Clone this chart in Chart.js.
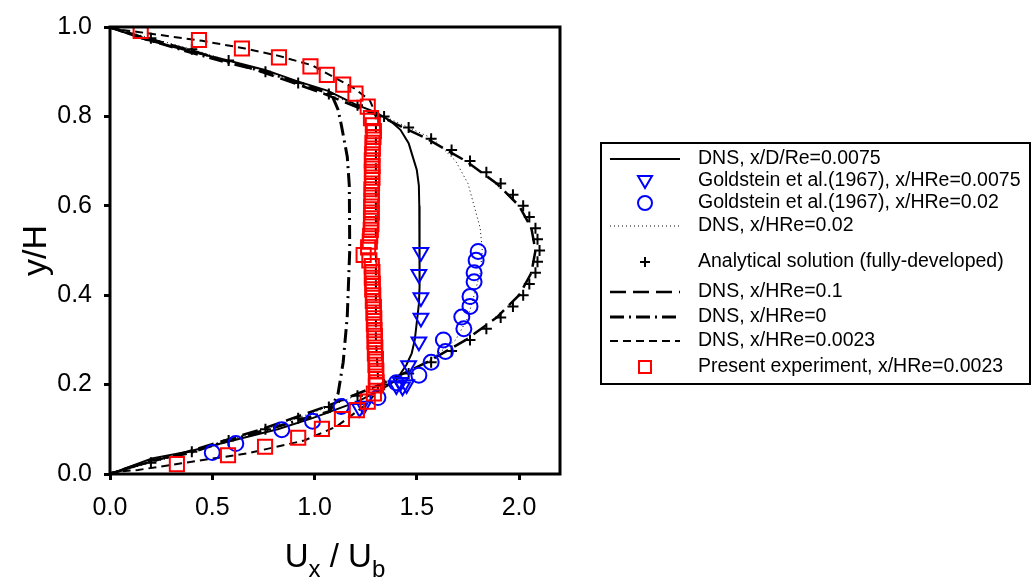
<!DOCTYPE html>
<html><head><meta charset="utf-8">
<script src="https://cdn.jsdelivr.net/npm/chart.js@4.4.1/dist/chart.umd.min.js"></script>
<style>html,body{margin:0;padding:0;background:#fff;}canvas{display:block;}</style>
</head><body>
<canvas id="c" width="1034" height="582"></canvas>
<script>
// ---- tick labels ----
const xTicks = [0, 0.5, 1.0, 1.5, 2.0];
const yTicks = [0, 0.2, 0.4, 0.6, 0.8, 1.0];

// ---- DNS, x/D/Re=0.0075 (solid) ----
const dns0075_y = [1.0,0.996,0.974,0.947,0.925,0.904,0.879,0.857,0.827,0.809,0.79,0.77,0.74,0.71,0.68,0.645,0.6,0.5,0.42,0.38,0.34,0.30,0.27,0.245,0.21,0.19,0.162,0.125,0.1,0.075,0.05,0.035,0.015,0.0];
const dns0075_u = [0,0.02,0.156,0.381,0.577,0.758,0.914,1.066,1.20,1.30,1.37,1.42,1.46,1.48,1.50,1.51,1.512,1.515,1.512,1.51,1.50,1.49,1.475,1.45,1.40,1.33,1.21,0.99,0.82,0.60,0.38,0.205,0.09,0];

// ---- Goldstein et al.(1967), x/HRe=0.0075 (triangles) ----
const goldTri_u = [1.52,1.51,1.52,1.52,1.51,1.46,1.42,1.45,1.40,1.43,1.22,1.24];
const goldTri_y = [0.496,0.447,0.395,0.349,0.296,0.243,0.205,0.200,0.198,0.195,0.147,0.152];

// ---- Goldstein et al.(1967), x/HRe=0.02 (circles) ----
const goldCirc_u = [1.80,1.79,1.78,1.78,1.76,1.76,1.72,1.73,1.63,1.64,1.57,1.51,1.40,1.31,1.13,0.99,0.84,0.615,0.50];
const goldCirc_y = [0.498,0.478,0.45,0.43,0.397,0.375,0.351,0.325,0.30,0.274,0.25,0.221,0.204,0.171,0.151,0.118,0.099,0.068,0.048];

// ---- DNS, x/HRe=0.02 (dotted) ----
const dns002_y = [0,0.025,0.05,0.1,0.15,0.2,0.25,0.3,0.35,0.4,0.45,0.5,0.55,0.6,0.65,0.7,0.75,0.8,0.85,0.9,0.95,0.975,1.0];
const dns002_u = [0,0.20,0.40,0.76,1.07,1.33,1.55,1.69,1.75,1.78,1.81,1.82,1.81,1.78,1.75,1.69,1.58,1.34,1.07,0.76,0.40,0.20,0];

// ---- Analytical solution (plus markers) ----
const anal_y = [0.025,0.05,0.075,0.1,0.125,0.15,0.175,0.2,0.225,0.25,0.275,0.3,0.325,0.35,0.375,0.4,0.425,0.45,0.475,0.5,0.525,0.55,0.575,0.6,0.625,0.65,0.675,0.7,0.725,0.75,0.775,0.8,0.825,0.85,0.875,0.9,0.925,0.95,0.975];
const anal_u = [0.20,0.40,0.58,0.76,0.92,1.07,1.21,1.34,1.46,1.57,1.67,1.76,1.84,1.91,1.97,2.02,2.05,2.08,2.09,2.10,2.09,2.08,2.05,2.02,1.97,1.91,1.84,1.76,1.67,1.57,1.46,1.34,1.21,1.07,0.92,0.76,0.58,0.40,0.20];

// ---- DNS, x/HRe=0.1 (long dash) ----
const dns01_y = [0,0.02,0.05,0.1,0.15,0.2,0.25,0.3,0.35,0.4,0.45,0.5,0.55,0.6,0.65,0.7,0.75,0.8,0.85,0.9,0.95,0.98,1.0];
const dns01_u = [0,0.14,0.38,0.74,1.05,1.32,1.55,1.74,1.89,2.00,2.06,2.08,2.06,2.00,1.89,1.74,1.55,1.32,1.05,0.74,0.38,0.14,0];

// ---- DNS, x/HRe=0 (dash-dot) ----
const dns0_y = [1.0,0.975,0.945,0.92,0.9,0.875,0.855,0.842,0.815,0.783,0.71,0.645,0.5,0.353,0.25,0.18,0.14,0.12,0.097,0.075,0.046,0.03,0.0];
const dns0_u = [0,0.16,0.38,0.58,0.76,0.92,1.05,1.09,1.115,1.13,1.16,1.17,1.172,1.16,1.14,1.115,1.075,0.92,0.75,0.58,0.38,0.20,0];

// ---- DNS, x/HRe=0.0023 (short dash) ----
const dns0023_y = [1.0,0.996,0.989,0.969,0.952,0.936,0.914,0.89,0.864,0.836,0.815,0.798,0.77,0.7,0.6,0.5,0.4,0.3,0.22,0.189,0.158,0.107,0.075,0.046,0.024,0.009,0.004,0];
const dns0023_u = [0,0.01,0.137,0.45,0.66,0.82,0.99,1.085,1.19,1.27,1.29,1.30,1.30,1.30,1.30,1.30,1.30,1.30,1.31,1.31,1.26,1.11,0.95,0.67,0.35,0.137,0.01,0];

// ---- Present experiment, x/HRe=0.0023 (squares) ----
const exp_y = [0.991,0.971,0.952,0.932,0.912,0.893,0.871,0.851,0.822,0.796,
  0.780,0.767,0.754,0.741,0.728,0.715,0.702,0.689,0.676,0.663,0.650,0.637,0.624,0.611,0.598,0.585,0.572,0.559,0.546,0.533,0.520,0.507,0.490,0.478,
  0.465,0.452,0.439,0.426,0.413,0.400,0.387,0.374,0.361,0.348,0.335,0.322,0.309,0.296,0.283,0.270,0.257,0.244,0.231,0.218,0.205,
  0.198,0.180,0.162,0.143,0.123,0.101,0.081,0.061,0.042,0.022];
const exp_u = [0.15,0.435,0.645,0.826,0.98,1.06,1.14,1.20,1.26,1.276,
  1.285,1.290,1.288,1.283,1.285,1.282,1.280,1.284,1.280,1.283,1.281,1.278,1.280,1.279,1.277,1.280,1.276,1.278,1.275,1.272,1.270,1.262,1.240,1.268,
  1.280,1.283,1.280,1.285,1.282,1.287,1.285,1.290,1.288,1.292,1.290,1.293,1.295,1.293,1.297,1.295,1.300,1.298,1.302,1.300,1.303,
  1.300,1.290,1.260,1.207,1.134,1.036,0.920,0.758,0.577,0.327];

const legendLabels = [
  'DNS, x/D/Re=0.0075',
  'Goldstein et al.(1967), x/HRe=0.0075',
  'Goldstein et al.(1967), x/HRe=0.02',
  'DNS, x/HRe=0.02',
  'Analytical solution (fully-developed)',
  'DNS, x/HRe=0.1',
  'DNS, x/HRe=0',
  'DNS, x/HRe=0.0023',
  'Present experiment, x/HRe=0.0023'
];

const FONT = "'Liberation Sans', Arial, Helvetica, sans-serif";
Chart.defaults.font.family = FONT;
Chart.defaults.color = '#000';

const pts = (us, ys) => us.map((u, i) => ({x: u, y: ys[i]}));
const DASH = { solid: [], dot: [1, 3], long: [16, 7], dashdot: [14, 5, 2, 5], short: [8, 5] };
const lineDS = (label, us, ys, dash, w) => ({
  label, data: pts(us, ys), showLine: true, borderColor: '#000', borderWidth: w,
  borderDash: dash, pointRadius: 0, pointHoverRadius: 0, fill: false, tension: 0, order: 2
});
const markDS = (label, us, ys, style, r, color, rot) => ({
  label, data: pts(us, ys), showLine: false, pointStyle: style, pointRadius: r, pointHoverRadius: r,
  pointBorderColor: color, pointBackgroundColor: 'rgba(0,0,0,0)', pointBorderWidth: 2,
  pointRotation: rot || 0, order: 1
});

const decor = {
  id: 'decor',
  afterDraw(chart) {
    const ctx = chart.ctx, a = chart.chartArea;
    ctx.save();
    // frame
    ctx.strokeStyle = '#000'; ctx.lineWidth = 3; ctx.setLineDash([]);
    ctx.strokeRect(a.left, a.top, a.right - a.left, a.bottom - a.top);

    // x axis title U_x / U_b
    ctx.fillStyle = '#000';
    ctx.textBaseline = 'alphabetic';
    const big = '33px ' + FONT, small = '24px ' + FONT;
    const parts = [['U', big, 0], ['x', small, 10], [' / ', big, 0], ['U', big, 0], ['b', small, 10]];
    let tot = 0;
    parts.forEach(p => { ctx.font = p[1]; p.w = ctx.measureText(p[0]).width; tot += p.w; });
    let x = (a.left + a.right) / 2 - tot / 2;
    const base = 567;
    parts.forEach(p => { ctx.font = p[1]; ctx.textAlign = 'left'; ctx.fillText(p[0], x, base + p[2]); x += p.w; });

    // y axis title
    ctx.save();
    ctx.translate(46, (a.top + a.bottom) / 2);
    ctx.rotate(-Math.PI / 2);
    ctx.font = '34px ' + FONT; ctx.textAlign = 'center'; ctx.textBaseline = 'alphabetic';
    ctx.fillText('y/H', 0, 0);
    ctx.restore();

    // legend
    const L = { x: 601, y: 143, w: 429, h: 241, s1: 610, s2: 680, cx: 645, tx: 698 };
    const rows = [159, 181, 203, 226, 262, 292, 317, 341, 367];
    ctx.lineWidth = 2; ctx.strokeStyle = '#000';
    ctx.strokeRect(L.x, L.y, L.w, L.h);
    ctx.font = '19.5px ' + FONT; ctx.textAlign = 'left'; ctx.textBaseline = 'middle'; ctx.fillStyle = '#000';
    legendLabels.forEach((t, i) => ctx.fillText(t, L.tx, rows[i]));
    const seg = (y, dash, w) => {
      ctx.save(); ctx.strokeStyle = '#000'; ctx.lineWidth = w; ctx.setLineDash(dash);
      ctx.beginPath(); ctx.moveTo(L.s1, y); ctx.lineTo(L.s2, y); ctx.stroke(); ctx.restore();
    };
    seg(rows[0], DASH.solid, 2);
    seg(rows[3], DASH.dot, 1);
    seg(rows[5], DASH.long, 2.5);
    seg(rows[6], DASH.dashdot, 3);
    seg(rows[7], DASH.short, 2);
    ctx.setLineDash([]);
    // triangle
    ctx.strokeStyle = '#0000ff'; ctx.lineWidth = 2;
    let y = rows[1];
    ctx.beginPath(); ctx.moveTo(L.cx - 7, y - 5); ctx.lineTo(L.cx + 7, y - 5); ctx.lineTo(L.cx, y + 7); ctx.closePath(); ctx.stroke();
    // circle
    ctx.beginPath(); ctx.arc(L.cx, rows[2], 7, 0, Math.PI * 2); ctx.stroke();
    // plus
    ctx.strokeStyle = '#000';
    y = rows[4];
    ctx.beginPath(); ctx.moveTo(L.cx - 5, y); ctx.lineTo(L.cx + 5, y); ctx.moveTo(L.cx, y - 5); ctx.lineTo(L.cx, y + 5); ctx.stroke();
    // square
    ctx.strokeStyle = '#ff0000';
    ctx.strokeRect(L.cx - 6, rows[8] - 6, 12, 12);
    ctx.restore();
  }
};

new Chart(document.getElementById('c'), {
  type: 'scatter',
  data: {
    datasets: [
      markDS(legendLabels[8], exp_u, exp_y, 'rect', 10, '#ff0000'),
      markDS(legendLabels[1], goldTri_u, goldTri_y, 'triangle', 8.5, '#0000ff', 180),
      markDS(legendLabels[2], goldCirc_u, goldCirc_y, 'circle', 7.5, '#0000ff'),
      markDS(legendLabels[4], anal_u, anal_y, 'cross', 5.5, '#000'),
      lineDS(legendLabels[0], dns0075_u, dns0075_y, DASH.solid, 2),
      lineDS(legendLabels[3], dns002_u, dns002_y, DASH.dot, 1),
      lineDS(legendLabels[5], dns01_u, dns01_y, DASH.long, 2.5),
      lineDS(legendLabels[6], dns0_u, dns0_y, DASH.dashdot, 3),
      lineDS(legendLabels[7], dns0023_u, dns0023_y, DASH.short, 2)
    ]
  },
  options: {
    responsive: false, animation: false, devicePixelRatio: 1,
    layout: { padding: { left: 0, top: 18, right: 474, bottom: 0 } },
    plugins: { legend: { display: false }, tooltip: { enabled: false }, title: { display: false } },
    events: [],
    scales: {
      x: {
        type: 'linear', min: 0, max: 2.2,
        afterFit: s => { s.height = 108; },
        afterBuildTicks: s => { s.ticks = xTicks.map(v => ({ value: v })); },
        ticks: { font: { size: 25 }, padding: 13, color: '#000', callback: v => v.toFixed(1), maxRotation: 0, autoSkip: false },
        grid: { display: true, drawOnChartArea: false, drawTicks: true, tickLength: 6, lineWidth: 3, color: '#000' },
        border: { display: false }
      },
      y: {
        type: 'linear', min: 0, max: 1,
        afterFit: s => { s.width = 110; },
        afterBuildTicks: s => { s.ticks = yTicks.map(v => ({ value: v })); },
        ticks: { font: { size: 25 }, padding: 12, color: '#000', callback: v => v.toFixed(1), autoSkip: false },
        grid: { display: true, drawOnChartArea: false, drawTicks: true, tickLength: 6, lineWidth: 3, color: '#000' },
        border: { display: false }
      }
    }
  },
  plugins: [decor]
});
</script>
</body></html>
